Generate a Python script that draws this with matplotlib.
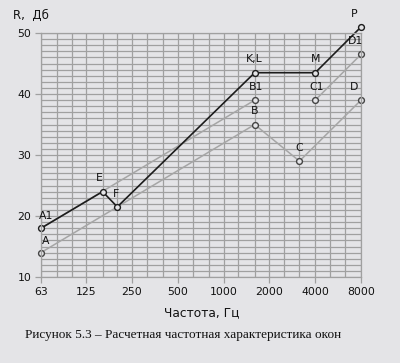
import matplotlib.pyplot as plt
from matplotlib.ticker import FixedLocator, NullFormatter

# frequencies (Hz) and sound insulation R (dB)
freq_black = [63, 160, 200, 1600, 4000, 8000]
r_black = [18, 24, 21.5, 43.5, 43.5, 51]
labels_black = ["A1", "E", "F", "K,L", "M", "P"]

freq_low = [63, 1600, 3150, 8000]
r_low = [14, 35, 29, 39]
labels_low = ["A", "B", "C", "D"]

freq_up_a = [63, 1600]
r_up_a = [18, 39]
freq_up_b = [4000, 8000]
r_up_b = [39, 46.5]
labels_up = ["B1", "C1", "D1"]
freq_up_pts = [1600, 4000, 8000]
r_up_pts = [39, 39, 46.5]

octaves = [63, 125, 250, 500, 1000, 2000, 4000, 8000]
third_octaves = [63, 80, 100, 125, 160, 200, 250, 315, 400, 500, 630, 800,
                 1000, 1250, 1600, 2000, 2500, 3150, 4000, 5000, 6300, 8000]

BG = "#e4e4e7"
GRID = "#a0a0a0"
GRAY = "#a6a6a6"
DARK = "#1c1c1c"

fig = plt.figure(figsize=(4.0, 3.63), dpi=100, facecolor=BG)
ax = fig.add_axes([0.1025, 0.2369, 0.80, 0.672])
ax.set_facecolor(BG)
ax.set_xscale("log", base=2)
ax.set_xlim(63, 8000)
ax.set_ylim(10, 50)

ax.xaxis.set_major_locator(FixedLocator(octaves))
ax.xaxis.set_minor_locator(FixedLocator(third_octaves))
ax.xaxis.set_minor_formatter(NullFormatter())
ax.set_xticklabels([str(f) for f in octaves])
ax.yaxis.set_major_locator(FixedLocator([10, 20, 30, 40, 50]))
ax.yaxis.set_minor_locator(FixedLocator(range(10, 51)))

ax.grid(True, which="both", color=GRID, linewidth=0.9)
ax.set_axisbelow(True)
for s in ax.spines.values():
    s.set_color(GRID)
    s.set_linewidth(0.9)
ax.tick_params(which="major", length=4, width=0.9, color=GRID,
               labelsize=7.8, labelcolor="#111111", pad=3)
ax.tick_params(which="minor", length=0)

mk = dict(marker="o", markersize=4.2, markerfacecolor=BG, markeredgewidth=1.0,
          clip_on=False)
ax.plot(freq_low, r_low, color=GRAY, linewidth=1.1, markeredgecolor="#444444", **mk)
ax.plot(freq_up_a, r_up_a, color=GRAY, linewidth=1.1, zorder=2)
ax.plot(freq_up_b, r_up_b, color=GRAY, linewidth=1.1, zorder=2)
ax.plot(freq_up_pts, r_up_pts, linestyle="none", markeredgecolor="#444444", **mk)
ax.plot(freq_black, r_black, color=DARK, linewidth=1.2, markeredgecolor=DARK, **mk)

offsets = {
    "A1": (4, 5), "E": (-2, 6), "F": (-1, 6), "K,L": (0, 6), "M": (0, 6), "P": (-5, 6),
    "A": (3, 5), "B": (0, 6), "C": (0, 6), "D": (-5, 6),
    "B1": (1, 6), "C1": (1, 6), "D1": (-4, 6),
}
pts = (list(zip(labels_black, freq_black, r_black))
       + list(zip(labels_low, freq_low, r_low))
       + list(zip(labels_up, freq_up_pts, r_up_pts)))
for name, f, r in pts:
    ax.annotate(name, (f, r), xytext=offsets[name], textcoords="offset points",
                ha="center", va="bottom", fontsize=7.8, color="#111111",
                annotation_clip=False)

fig.text(0.033, 0.957, "R,  Дб", fontsize=8.5, ha="left", va="center", color="#111111")
fig.text(0.505, 0.138, "Частота, Гц", fontsize=8.8, ha="center", va="center",
         color="#111111")
fig.text(0.062, 0.077, "Рисунок 5.3 – Расчетная частотная характеристика окон",
         fontsize=9.5, family="Liberation Serif", ha="left", va="center",
         color="#111111")

fig.savefig("out.png", dpi=100, facecolor=BG)
